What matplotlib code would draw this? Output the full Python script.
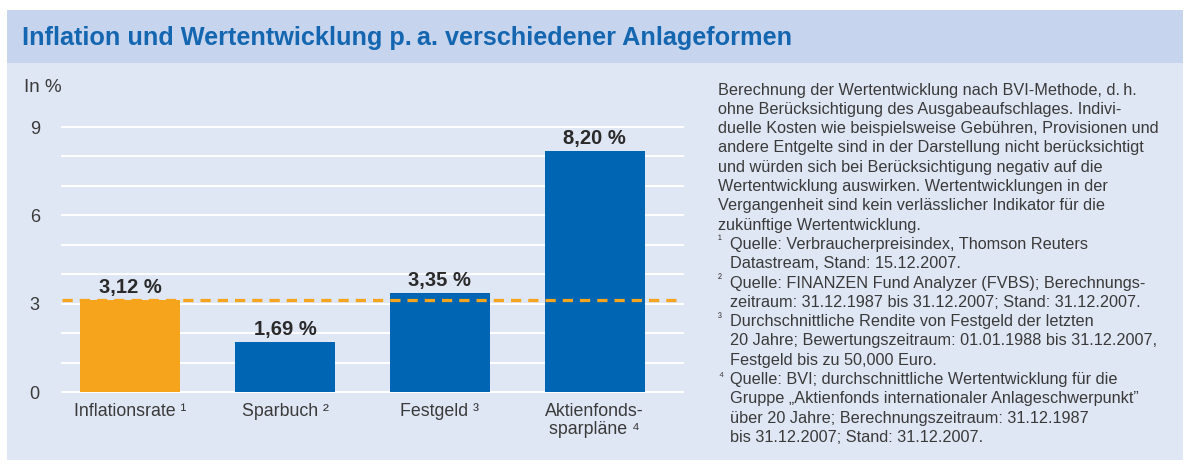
import numpy as np
import matplotlib.pyplot as plt
from matplotlib.patches import Rectangle

# Data
categories = ['Inflationsrate \u00b9', 'Sparbuch \u00b2', 'Festgeld \u00b3', 'Aktienfonds-\nsparpl\u00e4ne \u2074']
values = [3.12, 1.69, 3.35, 8.20]
value_labels = ['3,12 %', '1,69 %', '3,35 %', '8,20 %']
bar_colors = ['#f6a41c', '#0066b3', '#0066b3', '#0066b3']
inflation_line = 3.12
yticks = [0, 3, 6, 9]

title = 'Inflation und Wertentwicklung p.\u2009a. verschiedener Anlageformen'
note_lines = [
	'Berechnung der Wertentwicklung nach BVI-Methode, d.\u2009h.',
	'ohne Ber\u00fccksichtigung des Ausgabeaufschlages. Indivi-',
	'duelle Kosten wie beispielsweise Geb\u00fchren, Provisionen und',
	'andere Entgelte sind in der Darstellung nicht ber\u00fccksichtigt',
	'und w\u00fcrden sich bei Ber\u00fccksichtigung negativ auf die',
	'Wertentwicklung auswirken. Wertentwicklungen in der',
	'Vergangenheit sind kein verl\u00e4sslicher Indikator f\u00fcr die',
	'zuk\u00fcnftige Wertentwicklung.',
]
footnotes = [
	('\u00b9', ['Quelle: Verbraucherpreisindex, Thomson Reuters',
			'Datastream, Stand: 15.12.2007.']),
	('\u00b2', ['Quelle: FINANZEN Fund Analyzer (FVBS); Berechnungs-',
			'zeitraum: 31.12.1987 bis 31.12.2007; Stand: 31.12.2007.']),
	('\u00b3', ['Durchschnittliche Rendite von Festgeld der letzten',
			'20 Jahre; Bewertungszeitraum: 01.01.1988 bis 31.12.2007,',
			'Festgeld bis zu 50,000 Euro.']),
	('\u2074', ['Quelle: BVI; durchschnittliche Wertentwicklung f\u00fcr die',
			'Gruppe \u201eAktienfonds internationaler Anlageschwerpunkt\u201d',
			'\u00fcber 20 Jahre; Berechnungszeitraum: 31.12.1987',
			'bis 31.12.2007; Stand: 31.12.2007.']),
]

W, H = 1189, 465
chart_font = ['Liberation Sans', 'DejaVu Sans']
regular = ['Liberation Sans', 'DejaVu Sans']
text_color = '#3a3a3a'

fig = plt.figure(figsize=(W / 100, H / 100), dpi=100)
fig.patch.set_facecolor('white')

def px(x, y):
	return x / W, 1 - y / H

# Panel background and header band (behind the axes)
fig.patches.append(Rectangle(px(7, 460), 1176 / W, 450 / H, transform=fig.transFigure,
		facecolor='#dfe6f4', edgecolor='none', zorder=-2))
fig.patches.append(Rectangle(px(7, 63), 1176 / W, 53 / H, transform=fig.transFigure,
		facecolor='#c6d4ed', edgecolor='none', zorder=-1))
fig.text(*px(22, 38), title, family=regular, fontsize=18.2, fontweight='bold',
		color='#1466b0', va='center', ha='left')

# Chart
x0, x1, ytop, ybot = 62, 683, 127, 392
ax = fig.add_axes([x0 / W, (H - ybot) / H, (x1 - x0) / W, (ybot - ytop) / H])
ax.set_facecolor('none')
xs = np.arange(len(categories))
ax.set_xlim(-0.44, 3.57)
ax.set_ylim(0, 9)
for g in range(0, 10):
	ax.axhline(g, color='white', lw=1.4, zorder=1, clip_on=False)
ax.bar(xs, values, width=0.645, color=bar_colors, zorder=2)
ax.axhline(inflation_line, color='#f6a41c', lw=2.3, dashes=(3.2, 2.2), zorder=3)
for x, v, lab in zip(xs, values, value_labels):
	ax.text(x, v + 0.1, lab, ha='center', va='bottom', family=chart_font,
			fontsize=14.5, fontweight='bold', color='#2a2a2a')

for s in ax.spines.values():
	s.set_visible(False)
ax.set_yticks(yticks)
ax.set_yticklabels([str(t) for t in yticks], family=chart_font, fontsize=13, color=text_color)
ax.set_xticks(xs)
ax.set_xticklabels(categories, family=chart_font, fontsize=12.8, color=text_color, linespacing=1.1)
ax.tick_params(axis='both', length=0)
ax.tick_params(axis='y', pad=16)
ax.tick_params(axis='x', pad=8)
fig.text(*px(24, 88), 'In %', family=chart_font, fontsize=13.5, color=text_color, va='center')

# Right-hand notes
y = 90
step = 19.3
for line in note_lines:
	fig.text(*px(718, y), line, family=regular, fontsize=11.7, color=text_color, va='center')
	y += step
for mark, lines in footnotes:
	fig.text(*px(718, y - 3), mark, family=regular, fontsize=8.5, color=text_color, va='center')
	for line in lines:
		fig.text(*px(730, y), line, family=regular, fontsize=11.7, color=text_color, va='center')
		y += step

fig.savefig('out.png', dpi=100, facecolor='white')
